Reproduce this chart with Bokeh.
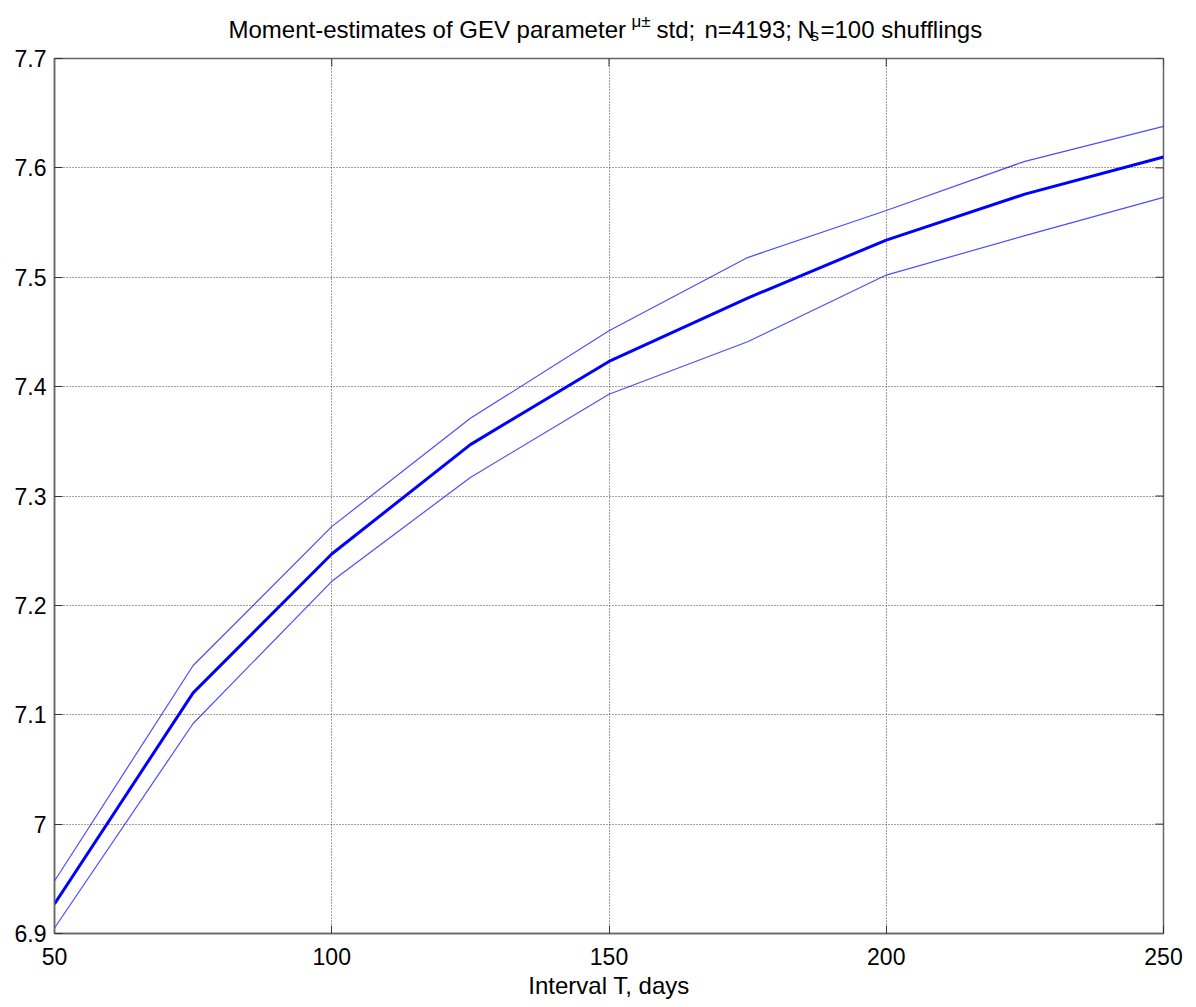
from bokeh.plotting import figure
from bokeh.models import Range1d, FixedTicker, CustomJSTickFormatter
from bokeh.layouts import column
from bokeh.core.properties import value
from bokeh.embed import file_html
from bokeh.resources import INLINE

# ---- data ----
T_days = [50, 75, 100, 125, 150, 175, 200, 225, 250]
mu_mean = [6.927, 7.120, 7.247, 7.347, 7.423, 7.481, 7.534, 7.576, 7.610]
mu_upper = [6.948, 7.145, 7.272, 7.371, 7.451, 7.518, 7.561, 7.606, 7.638]
mu_lower = [6.905, 7.092, 7.222, 7.317, 7.393, 7.441, 7.502, 7.538, 7.573]
x_ticks = [50, 100, 150, 200, 250]
y_ticks = [6.9, 7.0, 7.1, 7.2, 7.3, 7.4, 7.5, 7.6, 7.7]
title_parts = ["Moment-estimates of GEV parameter", "\u03bc\u00b1", "std;", "n=4193;",
               "N", "s", "=100 shufflings"]

W, H = 1196, 1007
HEAD = 47                       # height of the title strip
L, R, T, B = 54, 1163, 58, 933  # frame edges in page pixels
X0, X1, Y0, Y1 = 50, 250, 6.9, 7.7

FONT = "Liberation Sans"

# ---- title strip: its frame spans page pixels L..R horizontally, 0..HEAD vertically ----
head = figure(width=W, height=HEAD, output_backend="svg", toolbar_location=None,
              x_range=Range1d(L, R), y_range=Range1d(HEAD, 0),
              x_axis_location=None, y_axis_location=None,
              min_border_left=L, min_border_right=W - R,
              min_border_top=0, min_border_bottom=0)
head.outline_line_color = None
head.grid.visible = False
head.background_fill_color = "white"
head.border_fill_color = "white"
head_x = [228, 631, 656, 704, 797, 810, 820]
head_y = [29, 21, 29, 29, 29, 35, 29]
head_fs = ["24px", "17px", "24px", "24px", "24px", "17px", "24px"]
head.text(x=head_x, y=head_y, text=title_parts, text_font=value(FONT),
          text_font_size=head_fs, text_color="black",
          text_baseline="alphabetic", text_align="left")

# ---- main plot ----
p = figure(width=W, height=H - HEAD, output_backend="svg", toolbar_location=None,
           x_range=Range1d(X0, X1), y_range=Range1d(Y0, Y1),
           min_border_left=L, min_border_right=W - R,
           min_border_top=T - HEAD, min_border_bottom=H - B,
           x_axis_label="Interval T, days")
p.background_fill_color = "white"
p.border_fill_color = "white"
p.outline_line_color = "#666666"
p.outline_line_width = 1.5

fmt = CustomJSTickFormatter(code="return String(Math.round(tick*10)/10);")

for ax in [p.xaxis[0], p.yaxis[0]]:
    ax.axis_line_color = "#666666"
    ax.axis_line_width = 1.5
    ax.major_tick_in = 8
    ax.major_tick_out = 0
    ax.major_tick_line_color = "#333333"
    ax.minor_tick_line_color = None
    ax.major_label_text_font = FONT
    ax.major_label_text_font_size = "23px"
    ax.major_label_text_color = "black"
    ax.axis_label_text_font = FONT
    ax.axis_label_text_font_size = "24px"
    ax.axis_label_text_font_style = "normal"
    ax.axis_label_text_color = "black"

p.xaxis[0].ticker = FixedTicker(ticks=x_ticks)
p.yaxis[0].ticker = FixedTicker(ticks=y_ticks)
p.yaxis[0].formatter = fmt
p.xaxis[0].major_label_standoff = 14
p.yaxis[0].major_label_standoff = 8
p.xaxis[0].axis_label_standoff = 4

p.grid.grid_line_color = "#222222"
p.grid.grid_line_dash = "1 2"
p.grid.grid_line_width = 1
p.grid.grid_line_alpha = 0.85
p.xgrid.ticker = FixedTicker(ticks=x_ticks)
p.ygrid.ticker = FixedTicker(ticks=y_ticks)

# inner ticks on the top and right edges (box on), derived from the tick lists
tick_px = 8
dy_tick = tick_px * (Y1 - Y0) / (B - T)
dx_tick = tick_px * (X1 - X0) / (R - L)
p.segment(x0=x_ticks, y0=[Y1] * len(x_ticks), x1=x_ticks, y1=[Y1 - dy_tick] * len(x_ticks),
          line_color="#333333", line_width=1)
p.segment(x0=[X1] * len(y_ticks), y0=y_ticks, x1=[X1 - dx_tick] * len(y_ticks), y1=y_ticks,
          line_color="#333333", line_width=1)

p.line(T_days, mu_upper, line_color="#0000ff", line_width=1.2, line_alpha=0.7)
p.line(T_days, mu_lower, line_color="#0000ff", line_width=1.2, line_alpha=0.7)
p.line(T_days, mu_mean, line_color="#0000ff", line_width=3)

layout = column(head, p, spacing=0)
open("out.html", "w").write(file_html(layout, INLINE))
